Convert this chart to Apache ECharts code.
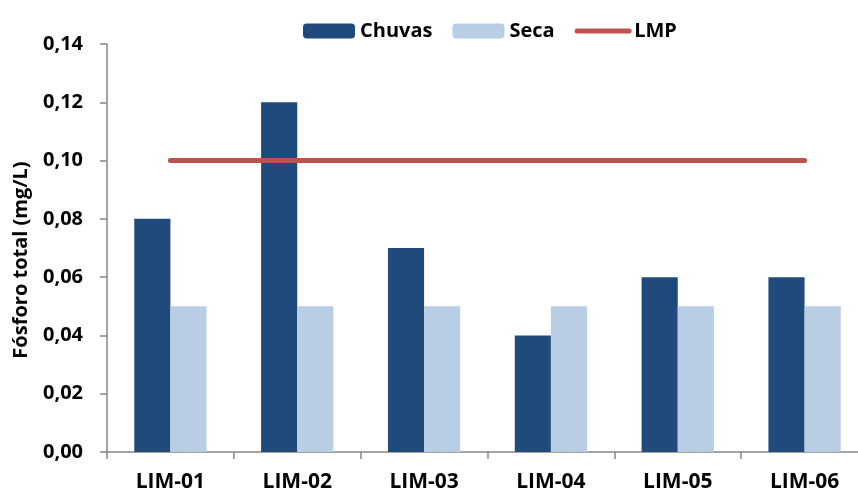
<!DOCTYPE html>
<html><head><meta charset="utf-8">
<script src="https://cdn.jsdelivr.net/npm/echarts@6/dist/echarts.min.js"></script>
<style>html,body{margin:0;padding:0;background:#fff}#c{width:858px;height:493px}</style>
</head><body><div id="c"></div>
<script>
const categories = ['LIM-01','LIM-02','LIM-03','LIM-04','LIM-05','LIM-06'];
const chuvas = [0.08, 0.12, 0.07, 0.04, 0.06, 0.06];
const seca = [0.05, 0.05, 0.05, 0.05, 0.05, 0.05];
const lmp = [0.10, 0.10, 0.10, 0.10, 0.10, 0.10];
const yTicks = {min: 0, max: 0.14, interval: 0.02};
const font = 'Open Sans';
const chart = echarts.init(document.getElementById('c'));
chart.setOption({
  animation: false,
  legend: {
    top: 16, left: 298, itemGap: 20, itemWidth: 52, itemHeight: 15,
    textStyle: {fontFamily: font, fontWeight: 'bold', fontSize: 20, color: '#000'},
    data: ['Chuvas', 'Seca', {name: 'LMP', itemStyle: {opacity: 0}, lineStyle: {width: 5, cap: 'round', color: '#C0504D'}}]
  },
  grid: {left: 107, width: 761, top: 44, bottom: 41, outerBoundsMode: 'none'},
  xAxis: {
    type: 'category', data: categories,
    axisLine: {lineStyle: {color: '#868686', width: 1.5}},
    axisTick: {show: true, length: 7, lineStyle: {color: '#868686', width: 1.5}},
    axisLabel: {fontFamily: font, fontWeight: 'bold', fontSize: 21, color: '#000', margin: 20}
  },
  yAxis: {
    type: 'value', min: yTicks.min, max: yTicks.max, interval: yTicks.interval,
    name: 'Fósforo total (mg/L)', nameLocation: 'middle', nameGap: 76, nameRotate: 90,
    nameTextStyle: {fontFamily: font, fontWeight: 'bold', fontSize: 20, color: '#000', padding: [0, 24, 0, 0]},
    axisLine: {show: true, lineStyle: {color: '#868686', width: 1.5}},
    axisTick: {show: true, inside: false, length: 7, lineStyle: {color: '#868686', width: 1.5}},
    splitLine: {show: false},
    axisLabel: {fontFamily: font, fontWeight: 'bold', fontSize: 20, color: '#000', margin: 24,
      formatter: v => v.toFixed(2).replace('.', ',')}
  },
  series: [
    {name: 'Chuvas', type: 'bar', data: chuvas, barGap: '0%', barCategoryGap: '43%',
      itemStyle: {color: '#214A7C'}},
    {name: 'Seca', type: 'bar', data: seca, itemStyle: {color: '#B9CDE5'}},
    {name: 'LMP', type: 'line', data: lmp, symbol: 'none', z: 5,
      lineStyle: {color: '#C0504D', width: 5, cap: 'round'}, itemStyle: {color: '#C0504D'}}
  ]
});
</script></body></html>
